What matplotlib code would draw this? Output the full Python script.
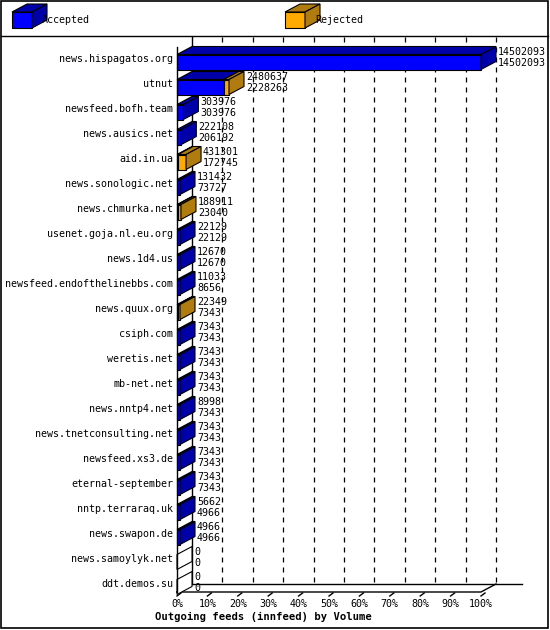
import matplotlib
matplotlib.use("Agg")
import matplotlib.pyplot as plt
from matplotlib.patches import Polygon, Rectangle

# --- data ---
hosts = ["news.hispagatos.org", "utnut", "newsfeed.bofh.team", "news.ausics.net",
         "aid.in.ua", "news.sonologic.net", "news.chmurka.net", "usenet.goja.nl.eu.org",
         "news.1d4.us", "newsfeed.endofthelinebbs.com", "news.quux.org", "csiph.com",
         "weretis.net", "mb-net.net", "news.nntp4.net", "news.tnetconsulting.net",
         "newsfeed.xs3.de", "eternal-september", "nntp.terraraq.uk", "news.swapon.de",
         "news.samoylyk.net", "ddt.demos.su"]
offered = [14502093, 2480637, 303976, 222108, 431301, 131432, 188911, 22129, 12670,
           11033, 22349, 7343, 7343, 7343, 8998, 7343, 7343, 7343, 5662, 4966, 0, 0]
accepted = [14502093, 2228263, 303976, 206192, 172745, 73727, 23040, 22129, 12670,
            8656, 7343, 7343, 7343, 7343, 7343, 7343, 7343, 7343, 4966, 4966, 0, 0]
tick_labels = [f"{p}%" for p in range(0, 101, 10)]

# --- geometry (pixels) ---
X0, X1 = 177, 481          # front plane 0%..100%
DX, DY = 15, -8            # depth offset
Y_TOP, Y_BOT = 47, 592
ROW0, ROW_H, BAR_H = 59, 25, 15
MIN_W = 3

BLUE, BLUE_D = "#0000ff", "#0000a8"
ORNG, ORNG_D = "#ffaa00", "#b07c10"
vmax = max(offered)

def xs(v):
    return X0 + v / vmax * (X1 - X0)

fig = plt.figure(figsize=(5.5, 6.3), dpi=100)
ax = fig.add_axes([0, 0, 1, 1])
ax.set_xlim(0, 550)
ax.set_ylim(630, 0)
ax.axis("off")
mono = "DejaVu Sans Mono"
fs = 7.2

def box3d(x0, x1, y0, h, front, dark):
    ax.add_patch(Rectangle((x0, y0), x1 - x0, h, fc=front, ec="black", lw=0.8, zorder=3))
    ax.add_patch(Polygon([(x0, y0), (x0 + DX, y0 + DY), (x1 + DX, y0 + DY), (x1, y0)],
                         fc=dark, ec="black", lw=0.8, zorder=3))

def side(x1, y0, h, dark):
    ax.add_patch(Polygon([(x1, y0), (x1 + DX, y0 + DY), (x1 + DX, y0 + h + DY), (x1, y0 + h)],
                         fc=dark, ec="black", lw=0.8, zorder=3))

# frame + legend
ax.add_patch(Rectangle((1, 1), 547, 627, fc="none", ec="black", lw=1.2))
ax.plot([1, 548], [36, 36], color="black", lw=1)
for lx, col, dcol, txt in [(12, BLUE, BLUE_D, "Accepted"), (285, ORNG, ORNG_D, "Rejected")]:
    box3d(lx, lx + 20, 12, 16, col, dcol)
    side(lx + 20, 12, 16, dcol)
    ax.text(lx + 30, 20, txt, fontsize=fs, family=mono, va="center")

# back wall grid
for i in range(1, 11):
    gx = xs(vmax * i / 10) + DX
    ax.plot([gx, gx], [Y_TOP + DY - 2, Y_BOT + DY], color="black", lw=0.9, ls=(0, (4, 4)), zorder=1)
ax.plot([X0 + DX, X0 + DX], [Y_TOP + DY - 2, Y_BOT + DY], color="black", lw=1, zorder=1)
ax.plot([X0, X0], [Y_TOP, Y_BOT], color="black", lw=1, zorder=4)
ax.plot([X0 + DX, X1 + DX + 26], [Y_BOT + DY, Y_BOT + DY], color="black", lw=1, zorder=1)
ax.plot([X0, X1, X1 + DX], [Y_BOT, Y_BOT, Y_BOT + DY], color="black", lw=1, zorder=1)
ax.plot([X0, X0 + DX], [Y_BOT, Y_BOT + DY], color="black", lw=1, zorder=1)
for i, lab in enumerate(tick_labels):
    tx = xs(vmax * i / 10)
    ax.plot([tx, tx + 4], [Y_BOT + 4, Y_BOT + 1], color="black", lw=1)
    ax.text(tx, Y_BOT + 12, lab, fontsize=fs, family=mono, ha="center", va="center")
ax.text(155, 617, "Outgoing feeds (innfeed) by Volume", fontsize=fs + 0.4,
        family=mono, weight="bold", va="center")

# bars
for i, (h, off, acc) in enumerate(zip(hosts, offered, accepted)):
    yc = ROW0 + i * ROW_H
    y0 = yc - BAR_H / 2 + 3
    ax.text(X0 - 4, yc, h, fontsize=fs, family=mono, ha="right", va="center")
    if off == 0:
        ax.add_patch(Polygon([(X0, y0), (X0 + DX, y0 + DY), (X0 + DX, y0 + BAR_H + DY), (X0, y0 + BAR_H)],
                             fc="white", ec="black", lw=0.8, zorder=3))
        xe = X0
    else:
        xa = max(xs(acc), X0 + (MIN_W if acc > 0 else 0))
        xe = max(xs(off), X0 + MIN_W)
        if off - acc > off * 0.5:
            xa = min(xa, X0 + 1)
        if acc > 0 and xa > X0:
            box3d(X0, xa, y0, BAR_H, BLUE, BLUE_D)
        if xe > xa + 0.5:
            box3d(xa, xe, y0, BAR_H, ORNG, ORNG_D)
            side(xe, y0, BAR_H, ORNG_D)
        else:
            xe = xa
            side(xe, y0, BAR_H, BLUE_D)
    ax.text(xe + DX + 2, yc - 7, str(off), fontsize=fs, family=mono, va="center", zorder=5)
    ax.text(xe + DX + 2, yc + 4, str(acc), fontsize=fs, family=mono, va="center", zorder=5)

fig.savefig("out.png", dpi=100, facecolor="white")
